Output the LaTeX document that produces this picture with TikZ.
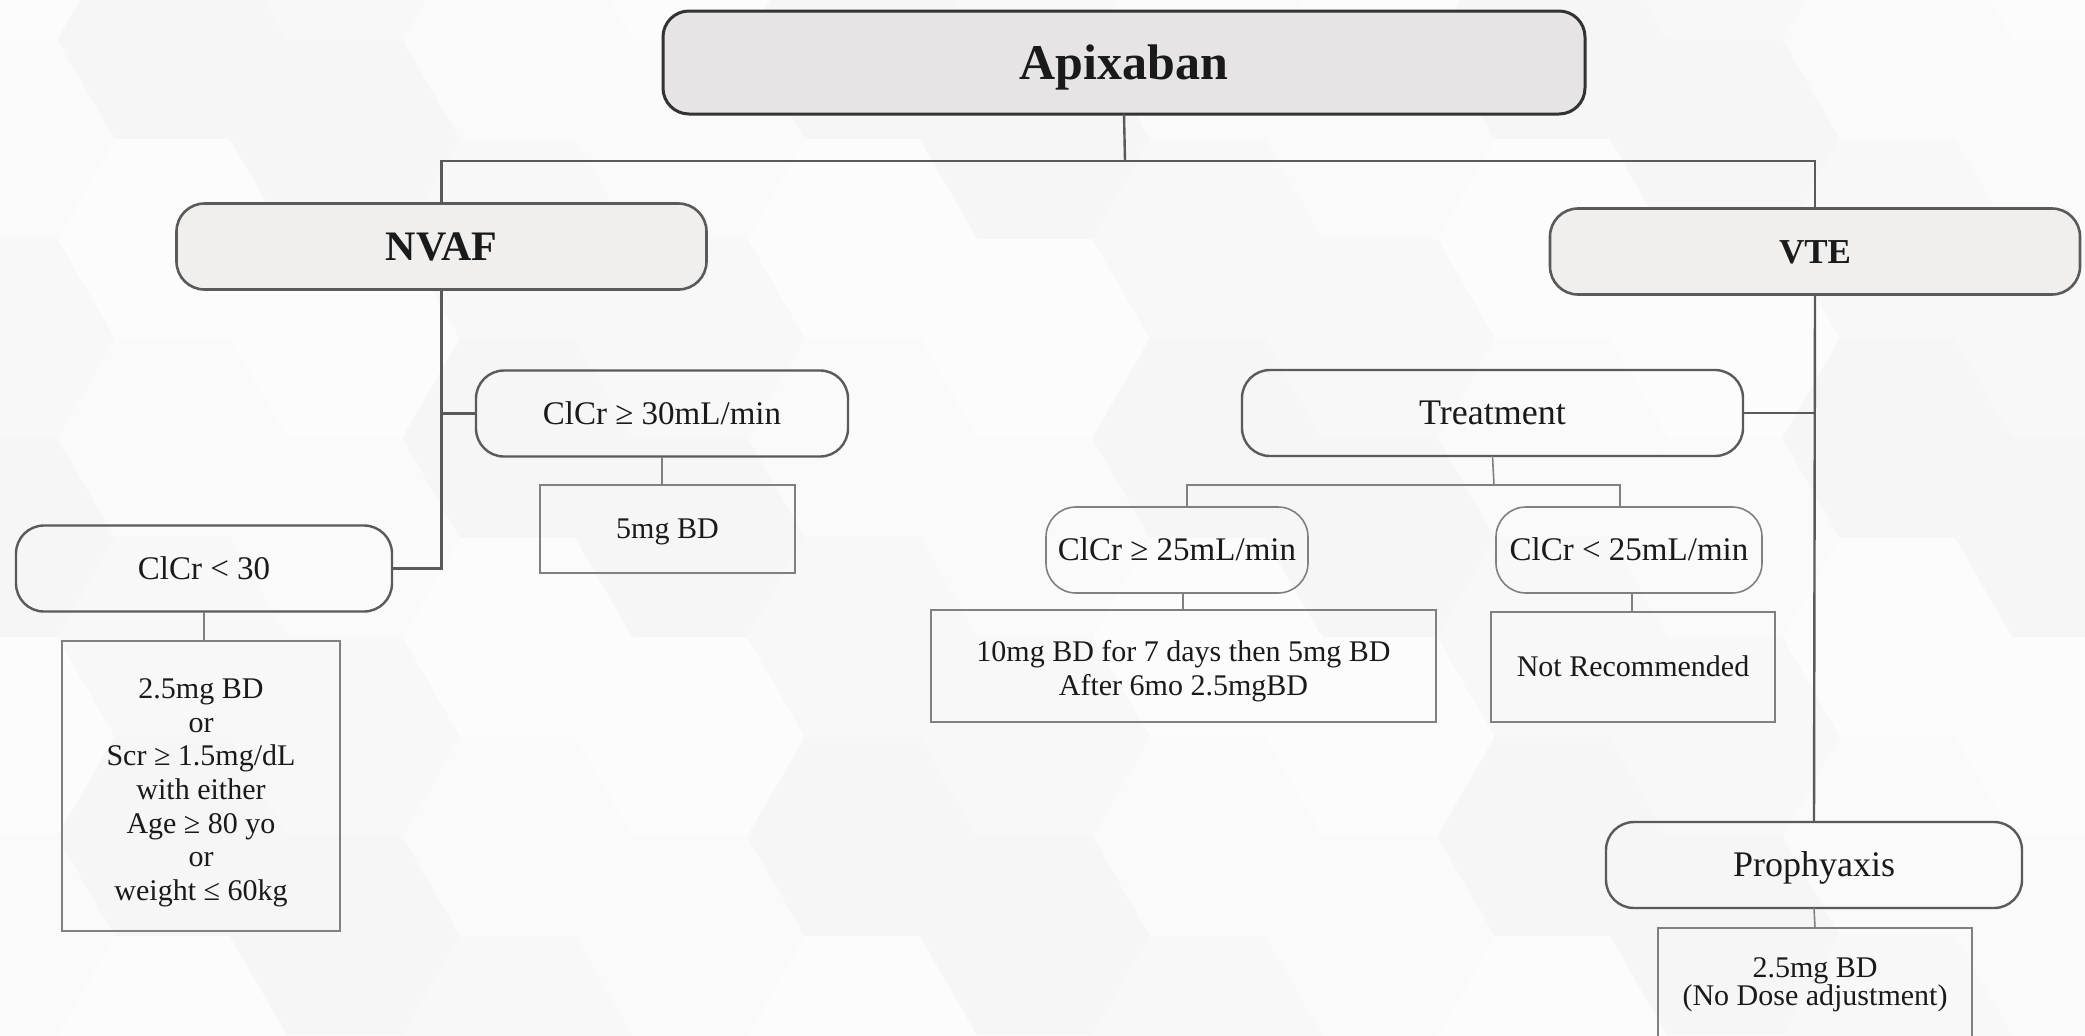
\documentclass[tikz,border=0pt]{standalone}
\usepackage{fontspec}
\setmainfont{Liberation Serif}
\definecolor{apifill}{HTML}{E6E4E5}
\definecolor{catfill}{HTML}{F0EFEE}
\definecolor{bgfill}{HTML}{F7F7F7}
\definecolor{inkline}{HTML}{5A5A5A}
\definecolor{textink}{HTML}{1A1A1A}
\begin{document}
\begin{tikzpicture}[x=0.5pt,y=-0.5pt,
  every node/.style={inner sep=0pt, outer sep=0pt, align=center, text=textink},
  % single-line labels: box height = cap height, so the capitals sit centred
  oneline/.style={text height=#1, text depth=0pt},
  apibox/.style={oneline=16.5pt, draw=black!80, line width=1.5pt, fill=apifill, rounded corners=13pt,
    minimum width=461pt, minimum height=51.5pt, font=\fontsize{25}{30}\selectfont\bfseries},
  catbox/.style={draw=inkline, line width=1.3pt, fill=catfill, rounded corners=14pt,
    minimum width=265pt, minimum height=43pt},
  condbox/.style={oneline=10.9pt, draw=inkline, line width=1.2pt, rounded corners=14pt,
    minimum height=43pt, font=\fontsize{16.5}{19}\selectfont},
  bigcond/.style={condbox, oneline=11.9pt, font=\fontsize{18}{21}\selectfont},
  subbox/.style={oneline=10.9pt, draw=black!50, line width=0.8pt, rounded corners=15pt,
    minimum height=43pt, font=\fontsize{16.5}{19}\selectfont},
  dosebox/.style={draw=black!50, line width=0.8pt, rectangle,
    font=\fontsize{15}{16.8}\selectfont},
  conn/.style={draw=inkline, line width=1.2pt},
  thinconn/.style={draw=black!50, line width=0.8pt}
]
\useasboundingbox (0,0) rectangle (2085,1035);

% soft hexagon backdrop
\begin{scope}
  \clip (0,0) rectangle (2085,1035);
  \fill[bgfill] (0,0) rectangle (2085,1035);
  \foreach \i in {0,...,13}{
    \foreach \j in {0,...,6}{
      \pgfmathsetmacro\cx{\i*172.5}
      \pgfmathsetmacro\cy{\j*199.2+mod(\i,2)*99.6-60}
      \pgfmathsetmacro\sh{1.2+mod(\i*3+\j*5,4)*0.8}
      \fill[black!\sh] (\cx,\cy) +(0:115) -- +(60:115) -- +(120:115) -- +(180:115)
        -- +(240:115) -- +(300:115) -- cycle;
    }
  }
\end{scope}

% top level
\node[apibox] (api) at (1124,62.5) {Apixaban};
\node[catbox, oneline=13.9pt, font=\fontsize{21}{25}\selectfont\bfseries] (nvaf) at (441.5,246.5) {NVAF};
\node[catbox, oneline=11.6pt, font=\fontsize{17.5}{21}\selectfont\bfseries] (vte) at (1815,251.5) {VTE};

% NVAF branch
\node[condbox, minimum width=186pt] (chi30) at (662,413.5) {ClCr ≥ 30mL/min};
\node[dosebox, oneline=9.9pt, minimum width=127.5pt, minimum height=44pt] (dose5) at (667.5,529) {5mg BD};
\node[condbox, minimum width=188pt] (clo30) at (204,568.5) {ClCr < 30};
\node[dosebox, minimum width=139pt, minimum height=145pt] (dlo30) at (201,786)
  {\rule{0pt}{16.8pt}2.5mg BD\\or\\Scr ≥ 1.5mg/dL\\with either\\Age ≥ 80 yo\\or\\weight ≤ 60kg};

% VTE branch
\node[bigcond, minimum width=250.5pt] (treat) at (1492.5,413) {Treatment};
\node[subbox, minimum width=131pt] (chi25) at (1177,550) {ClCr ≥ 25mL/min};
\node[subbox, minimum width=133pt] (clo25) at (1629,550) {ClCr < 25mL/min};
\node[dosebox, minimum width=252.5pt, minimum height=56pt] (d10) at (1183.5,666)
  {\rule{0pt}{15.6pt}10mg BD for 7 days then 5mg BD\\After 6mo 2.5mgBD};
\node[dosebox, oneline=9.9pt, minimum width=142pt, minimum height=55pt] (notrec) at (1633,667) {Not Recommended};
\node[bigcond, minimum width=208pt] (proph) at (1814,865) {Prophyaxis};
\node[dosebox, minimum width=157pt, minimum height=57pt, anchor=north,
  font=\fontsize{15}{14}\selectfont] (dpro) at (1815,928)
  {2.5mg BD\\(No Dose adjustment)};

% connectors
\coordinate (bus) at (1125,161);
\draw[conn] (api.south) -- (bus);
\draw[conn] (nvaf.north) |- (bus) -| (vte.north);

\draw[conn] (nvaf.south) |- (clo30.east);
\draw[conn] (chi30.west) -- (chi30.west -| nvaf.south);
\draw[thinconn] (chi30.south) -- (chi30.south |- dose5.north);
\draw[thinconn] (clo30.south) -- (clo30.south |- dlo30.north);

\draw[conn] (vte.south) -- (proph.north);
\draw[conn] (treat.east) -- (treat.east -| vte.south);
\coordinate (tbus) at (1494,485);
\draw[thinconn] (treat.south) -- (tbus);
\draw[thinconn] ([xshift=5pt]chi25.north) |- (tbus) -| ([xshift=-4.5pt]clo25.north);
\draw[thinconn] ([xshift=3pt]chi25.south) -- ([xshift=3pt]chi25.south |- d10.north);
\draw[thinconn] ([xshift=1.5pt]clo25.south) -- ([xshift=1.5pt]clo25.south |- notrec.north);
\draw[thinconn] (proph.south) -- (dpro.north);
\end{tikzpicture}
\end{document}
